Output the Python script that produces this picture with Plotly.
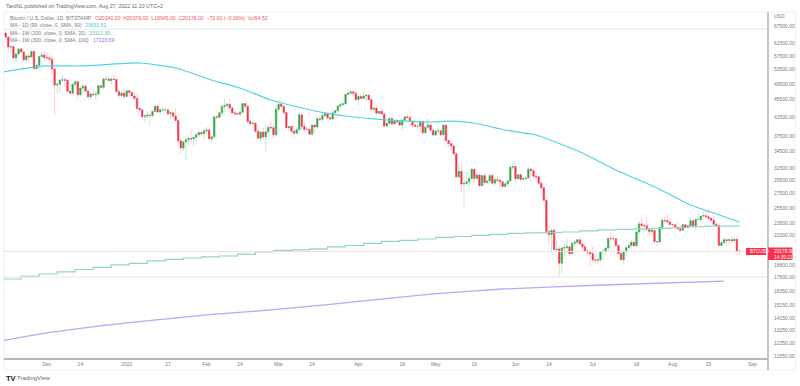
import plotly.graph_objects as go
import pandas as pd

first_open = 64400
closes = [
 65000,63600,60300,60400,56900,58100,59700,58700,56300,57500,57200,58900,53700,54700,57300,57800,57000,
 56900,56500,53600,49200,49400,50500,50600,50500,47600,47100,49400,50100,46700,48400,48900,47600,46200,46900,46700,46900,49000,48600,50800,50800,50400,50800,50700,47500,46500,47100,46300,
 47700,47300,46400,45800,43400,43100,41500,41700,41900,41800,42700,43900,42600,43100,43100,43100,42200,42400,41700,40700,36500,35100,36300,36700,36950,36850,37200,37700,38150,37900,38500,
 38700,36900,37300,41500,41400,42400,43850,44100,44400,43500,42400,42200,42100,42550,44550,43900,40500,40000,40100,38400,37000,38250,37250,38300,39250,39150,37700,43200,
 44400,43900,42450,39150,39400,38400,38000,38750,41950,39400,38800,38800,37800,39700,39300,41100,40950,41800,42200,41300,41000,42400,42900,44000,44300,44500,46800,47100,47450,47100,45500,
 46300,45800,46400,46600,45500,43200,43450,42300,42750,42150,39500,40100,41150,39950,40550,40400,39700,40800,41500,41350,40500,39700,39450,39450,40450,38100,39250,39750,38600,37650,
 38450,38500,37700,39700,36550,36000,35500,34050,30100,31000,28950,29050,29300,29850,31350,29850,30400,28700,30300,29200,29450,30300,29100,29650,29550,29300,28600,29000,29450,31700,31800,
 29800,30450,29700,29850,29900,31350,31100,30200,30100,29100,28400,26550,22450,22100,22600,20400,20450,18950,20550,20600,20700,19950,21100,21200,21500,21000,20700,20250,20100,19950,
 19300,19250,19300,20200,20200,20550,21650,21600,21600,20850,19950,19300,20200,20600,20830,21200,20800,22400,23400,23200,23150,22700,22450,22600,21300,21250,22950,23850,23800,23650,23300,
 23300,22980,22800,22600,23300,22950,23170,23800,23150,23950,23950,24400,24450,24300,24100,23850,23350,23200,20850,21150,21500,21400,21500,21370,21550,20242,20178,
]
highs = [
 65400,66300,63500,60800,60900,58400,60000,60000,59500,58000,57700,59400,59100,55300,57400,58800,59200,
 59000,57400,57600,53900,49700,50900,51900,51200,50800,50000,49500,50800,50300,48700,49500,49400,47900,47300,48300,47500,49300,49600,51400,51800,51200,51300,52100,50700,48100,47900,48500,
 47900,47900,47500,47500,47000,43700,43100,42300,42700,42200,43100,44300,44400,43400,43800,43500,43200,42700,42600,43500,41100,36800,36500,37500,37500,38900,37200,38000,38700,38300,38700,
 39300,38800,37400,41700,41900,42500,44500,45500,44800,45800,43900,43000,42700,42800,44700,44600,44200,40900,40400,40400,39500,38400,39200,39700,39700,40300,39800,44200,
 45300,45400,44100,42500,39700,39600,39500,39300,42500,42000,40200,39500,39300,39900,39900,41700,41500,42300,42400,42300,41500,43400,43000,44200,45100,44800,46900,48200,48100,47700,47600,
 46700,47200,47400,46900,47200,45500,43900,43900,42800,43400,42400,40700,41500,41500,40900,40700,40600,41100,41700,42200,42900,40800,39900,39900,40600,40800,39450,40400,39900,38800,
 38700,39200,38600,40000,39800,36700,36100,35500,34300,32600,32200,30100,30900,30300,31400,31300,31000,30700,30500,30700,29600,30400,30600,29800,30200,29900,29400,29200,29500,32200,32400,
 31900,30600,30700,29950,30200,31750,31550,31300,30600,30300,29400,28500,26900,23300,22800,22900,21300,20700,20800,21000,21700,20900,21200,21500,21600,21850,21500,21200,20400,20200,
 20800,19450,19650,20250,20400,20650,21800,22500,21900,21600,20850,20000,20250,20850,21200,21550,21650,22700,23750,24250,23400,24250,22950,22950,22650,21350,23100,24200,24450,24650,24150,
 23500,23450,23650,23200,23450,23350,23400,24250,23900,24200,24900,24450,24900,25100,25200,24250,24400,23600,23200,21350,21800,21500,21650,21900,21800,21850,20376,
]
lows = [
 63400,63500,58600,58400,56500,55600,57500,58500,55700,55300,55800,57000,53500,53600,53300,56700,55900,
 56500,55900,51700,42000,47100,47300,50100,48700,47300,46900,46900,48700,45700,46300,46700,47500,45500,45600,46500,45600,46700,48450,48100,50500,50200,49500,50500,47300,46100,45900,45700,
 46200,46700,45700,45500,42600,42500,40700,40500,41200,39650,41300,42500,42300,41800,42600,42600,41600,41300,41200,40600,35500,34000,34600,32900,35700,36300,35500,36200,37400,37400,36700,
 38000,36600,36300,37000,40900,41100,41700,42700,43200,43200,42000,41700,41900,41600,42500,43300,40100,39500,39700,38000,36800,36400,37100,34300,38000,38600,37000,37400,
 42900,43400,41900,38600,38600,38100,37200,37900,38700,38600,38300,38700,37600,37600,38100,38900,40500,40200,41500,40900,40500,40900,41900,42600,43600,44100,44400,46600,46900,46500,45200,
 44200,45600,45500,45100,45400,43100,42700,42100,42100,42000,39200,39300,39600,39550,39800,40000,39600,38600,40600,40900,39800,39200,39300,38900,38300,37700,37900,38900,38200,37600,
 37400,38000,37500,37700,35600,35300,34800,33700,30000,29800,27700,25600,28700,28600,29500,29100,29500,28600,28700,28700,28900,29200,28900,28800,29300,28000,28200,28500,28800,29300,31200,
 29300,29600,29400,29500,29500,29850,29200,29900,29900,28900,28100,26500,22100,20800,20100,20200,20300,17600,17950,19700,20350,19800,19900,20750,20950,20950,20500,20200,19850,18650,
 18950,18950,18800,19050,19300,19800,20250,21200,21300,20700,19900,19250,18900,19650,20400,20500,20750,20750,21700,22950,22350,22450,21950,22000,21050,20700,21050,22600,23400,23500,23250,
 22850,22700,22700,22450,22600,22900,22850,23150,22900,22700,23900,23600,24350,24150,23800,23700,23200,23100,20800,20750,21100,20900,20900,21150,21320,20100,19945,
]
dates = pd.date_range("2021-11-14", periods=len(closes), freq="D")
opens = [first_open] + closes[:-1]

ma99_dates = ["2021-11-14","2021-11-30","2021-12-15","2022-01-06","2022-01-20","2022-02-03","2022-02-14","2022-02-26","2022-03-10","2022-03-19","2022-03-27","2022-04-07","2022-04-15","2022-04-29","2022-05-07","2022-05-15","2022-05-28","2022-06-09","2022-06-27","2022-07-10","2022-07-26","2022-08-08","2022-08-17","2022-08-27"]
ma99_vals = [52770,54490,54490,55370,53910,50560,48430,45420,43520,42370,41690,41030,40700,40370,40550,40200,38680,37660,34200,31230,28360,25890,24800,23631]

ma200_dates = list(pd.date_range("2021-11-14", periods=41, freq="7D")) + [pd.Timestamp("2022-08-27")]
ma200_vals = [17420,17660,17890,18090,18330,18530,18780,18930,19190,19340,19490,19600,19700,19910,20130,20300,20350,20460,20680,20840,21070,21300,21410,21580,21760,21870,21990,22110,22230,22290,22340,22400,22530,22660,22730,22790,22850,22920,23040,23112,23112,23112]

ma300_dates = ["2021-11-14","2021-12-01","2022-01-01","2022-02-01","2022-02-26","2022-04-07","2022-04-30","2022-05-27","2022-07-05","2022-08-21"]
ma300_vals = [12520,13050,13770,14370,14760,15570,16080,16510,16870,17223]

x_tick_dates = ["2021-12-01","2021-12-14","2022-01-01","2022-01-17","2022-02-01","2022-02-14","2022-03-01","2022-03-14","2022-04-01","2022-04-18","2022-05-01","2022-05-16","2022-06-01","2022-06-14","2022-07-01","2022-07-18","2022-08-01","2022-08-15","2022-09-01"]
x_tick_text = ["Dec","14","2022","17","Feb","14","Mar","14","Apr","18","May","16","Jun","14","Jul","18","Aug","15","Sep"]
y_ticks = [67500,61500,57500,53500,49500,45500,41500,37500,34500,31500,29500,27500,25500,23500,22000,18800,17600,16350,15150,14150,13250,12350,11550]
last_price = 20178
high_line = 66400
low_line = 17600

RED = "#f7324a"; GREEN = "#37a648"; GREY = "#7b7b7b"; FONT = "Liberation Sans"
W, H = 800, 386
L, R, T, B = 4, 32, 12, 28
px = lambda x: (x - L) / (W - L - R)
py = lambda y: 1 - (y - T) / (H - T - B)

fig = go.Figure()
fig.add_trace(go.Candlestick(x=dates, open=opens, high=highs, low=lows, close=closes,
    increasing=dict(line=dict(color="#c5e6d6", width=1), fillcolor="#c5e6d6"),
    decreasing=dict(line=dict(color="#fbd0d6", width=1), fillcolor="#fbd0d6"),
    whiskerwidth=0, showlegend=False, hoverinfo="skip"))
fig.add_trace(go.Candlestick(x=dates, open=opens, close=closes,
    high=[max(a, b) for a, b in zip(opens, closes)], low=[min(a, b) for a, b in zip(opens, closes)],
    increasing=dict(line=dict(color=GREEN, width=0.4), fillcolor=GREEN),
    decreasing=dict(line=dict(color=RED, width=0.4), fillcolor=RED),
    whiskerwidth=0, showlegend=False, hoverinfo="skip"))
fig.add_trace(go.Scatter(x=ma99_dates, y=ma99_vals, mode="lines", line=dict(color="#4fd3e6", width=1.2, shape="spline", smoothing=0.5), showlegend=False))
fig.add_trace(go.Scatter(x=ma200_dates, y=ma200_vals, mode="lines", line=dict(color="#8fd6c6", width=1.2, shape="hv"), showlegend=False))
fig.add_trace(go.Scatter(x=ma300_dates, y=ma300_vals, mode="lines", line=dict(color="#c3a2f7", width=1.3, shape="spline", smoothing=0.5), showlegend=False))

shapes = [
    dict(type="line", xref="paper", yref="y", x0=0, x1=1, y0=high_line, y1=high_line, line=dict(color="#e8e8e8", width=1)),
    dict(type="line", xref="paper", yref="y", x0=0, x1=1, y0=low_line, y1=low_line, line=dict(color="#e8e8e8", width=1)),
    dict(type="line", xref="paper", yref="y", x0=0, x1=1, y0=last_price, y1=last_price, line=dict(color="#fbdbe0", width=1)),
    dict(type="rect", xref="paper", yref="paper", x0=0, x1=px(795.5), y0=py(370), y1=1, line=dict(color="#f0f0f0", width=1), layer="below"),
    dict(type="line", xref="paper", yref="paper", x0=1, x1=1, y0=py(370), y1=1, line=dict(color="#b8b8b8", width=1.6)),
    dict(type="rect", xref="paper", yref="paper", x0=px(746), x1=px(766), y0=py(255), y1=py(248), fillcolor=RED, line=dict(width=0)),
    dict(type="rect", xref="paper", yref="paper", x0=px(768), x1=px(792.5), y0=py(260), y1=py(247.5), fillcolor=RED, line=dict(width=0)),
]

def note(x, y, text, color=GREY, size=5.1, **kw):
    return dict(xref="paper", yref="paper", x=px(x), y=py(y), text=text, showarrow=False, xanchor="left", yanchor="middle",
                font=dict(family=FONT, size=size, color=color), **kw)

ann = [
    note(4, 5.5, "TaroNL published on TradingView.com, Aug 27, 2022 11:20 UTC+2", "#666666", 5.3),
    note(8, 18, "Bitcoin / U.S. Dollar, 1D, BITSTAMP"),
    note(93, 18, "O20242.00  H20376.00  L19945.00  C20178.00  −72.00 (−0.36%)  Vol94.52", "#f4566a", 5.15),
    note(8, 25.5, "MA - 1D (99, close, 0, SMA, 99)"),
    note(83, 25.5, "23631.51", "#3cc8dc"),
    note(8, 33, "MA - 1W (200, close, 0, SMA, 20)"),
    note(87, 33, "23112.39", "#5cc4ae"),
    note(8, 40, "MA - 1W (300, close, 0, SMA, 100)"),
    note(91, 40, "17223.69", "#a56df0"),
    note(772, 16.5, "USD", GREY, 5),
    note(748, 251.5, "BTCUSD", "#ffffff", 4.6),
    note(771.5, 251.5, "20178.00", "#ffffff", 4.8),
    note(771.5, 257, "14:39:21", "#ffffff", 4.8),
    note(4, 378, "<b>TV</b>", "#131722", 7.5),
    note(15, 378, "TradingView", "#6a6a6a", 6),
]

fig.update_layout(
    width=W, height=H, margin=dict(l=L, r=R, t=T, b=B), paper_bgcolor="white", plot_bgcolor="white",
    showlegend=False, shapes=shapes, annotations=ann, boxgap=0.22,
    xaxis=dict(type="date", range=["2021-11-14 08:00", "2022-09-07 02:00"], rangeslider=dict(visible=False),
               showgrid=False, zeroline=False, tickmode="array", tickvals=x_tick_dates, ticktext=x_tick_text,
               ticks="", showline=True, linecolor="#b8b8b8", linewidth=1.6,
               tickfont=dict(family=FONT, size=5, color=GREY)),
    yaxis=dict(type="log", side="right", range=[4.05734, 4.8618], showgrid=False, zeroline=False,
               tickmode="array", tickvals=y_ticks, ticktext=[f"{v}.00" for v in y_ticks],
               ticks="outside", ticklen=4, tickcolor="rgba(0,0,0,0)", showline=False,
               tickfont=dict(family=FONT, size=5, color=GREY)),
)
fig.write_html("out.html", config=dict(displayModeBar=False),
               post_script="document.body.style.margin='0';document.documentElement.style.overflow='hidden';")
